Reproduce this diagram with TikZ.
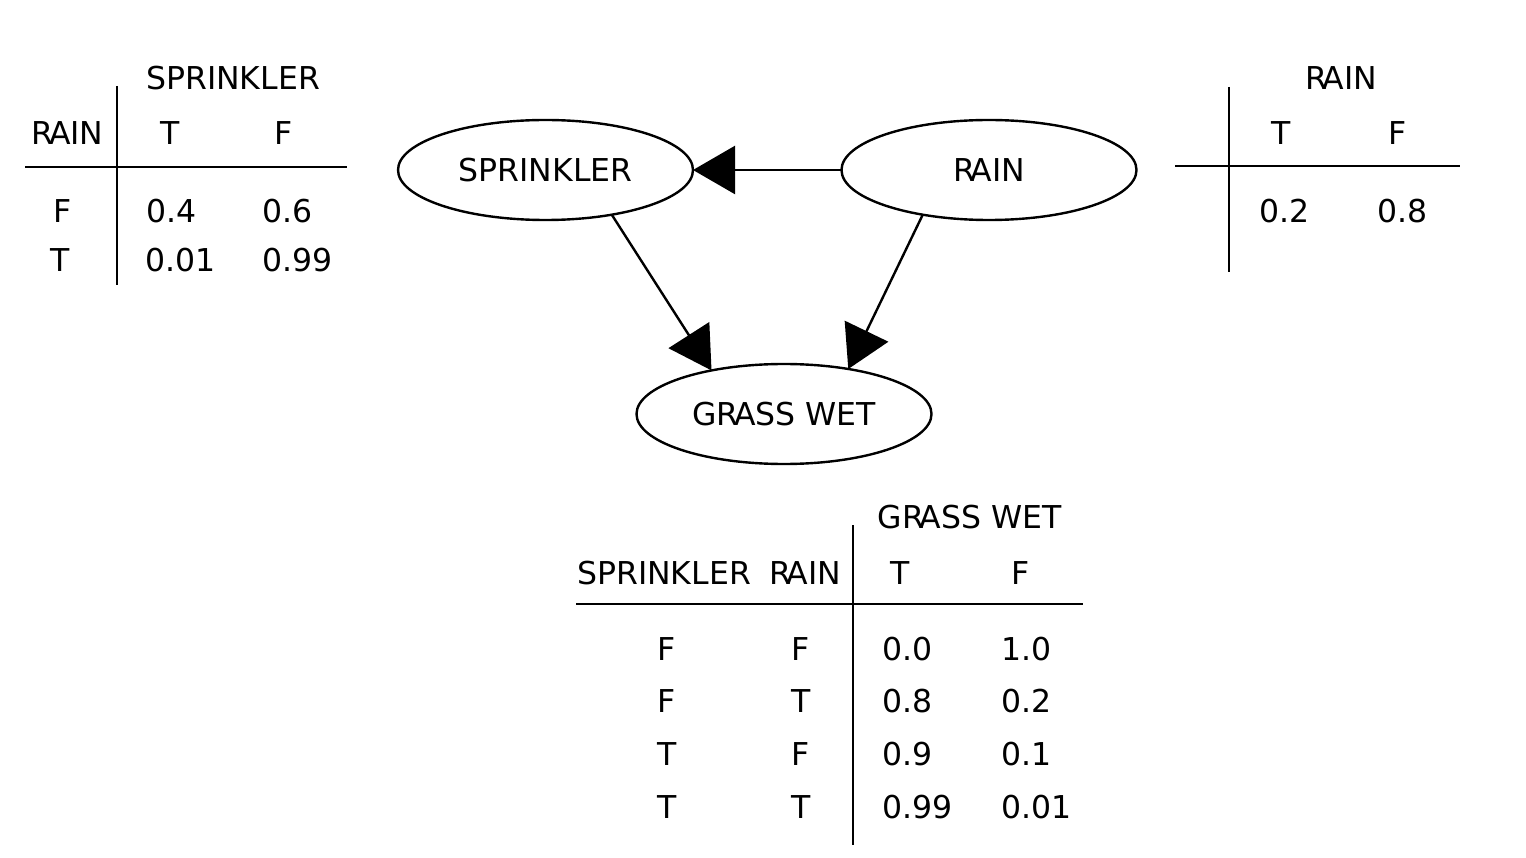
\documentclass[tikz,border=0pt]{standalone}
\usepackage{fontspec}
\setmainfont{DejaVu Sans}
\usetikzlibrary{arrows.meta,shapes.geometric}
\newcommand{\myRA}{R\kern-4.5pt A}
\begin{document}
\begin{tikzpicture}[x=1pt,y=-1pt,
  lbl/.style={font=\fontsize{31.5}{36}\selectfont, inner sep=0, outer sep=0, anchor=base},
  num/.style={lbl, anchor=base west},
  var/.style={ellipse, draw, line width=2.4pt, minimum width=295pt, minimum height=100pt,
              inner sep=0, outer sep=0, font=\fontsize{31.5}{36}\selectfont},
  rule/.style={line width=2.4pt},
  arr/.style={line width=2.4pt, -{Triangle[length=42pt,width=48pt]}}]
\fill[white] (0,0) rectangle (1526,858);
\useasboundingbox (0,0) rectangle (1526,858);

% network
\node[var] (spr) at (545.5,170) {SPRINKLER};
\node[var] (rain) at (989,170) {\myRA IN};
\node[var] (gw) at (784,414) {G\myRA SS WET};
\draw[arr] (rain) -- (spr);
\draw[arr] (spr.-34) -- (gw.149);
\draw[arr] (rain.214.5) -- (gw.35);

% top-left table: SPRINKLER given RAIN
\node[lbl] (a0) at (233,89.5) {SPRINKLER};
\node[lbl] (a1) at (67.5,145) {\myRA IN};
\node[lbl] (a2) at (170,145) {T};
\node[lbl] (a3) at (284,145) {F};
\node[lbl] (a4) at (63,222.5) {F};
\node[num] (a5) at (146,222.5) {0.4};
\node[num] (a6) at (262,222.5) {0.6};
\node[lbl] (a7) at (60,272) {T};
\node[num] (a8) at (145,272) {0.01};
\node[num] (a9) at (262,272) {0.99};
\draw[rule] (25,167) -- (347,167);
\draw[rule] (117,86) -- (117,285);

% top-right table: RAIN
\node[lbl] (b0) at (1341,89.5) {\myRA IN};
\node[lbl] (b1) at (1281,145) {T};
\node[lbl] (b2) at (1398,145) {F};
\node[num] (b3) at (1259,222.5) {0.2};
\node[num] (b4) at (1377,222.5) {0.8};
\draw[rule] (1175,166) -- (1460,166);
\draw[rule] (1229,87) -- (1229,272);

% bottom table: GRASS WET given SPRINKLER, RAIN
\node[lbl] (c0) at (969.5,528) {G\myRA SS WET};
\node[lbl] (c1) at (664,584) {SPRINKLER};
\node[lbl] (c2) at (805,584) {\myRA IN};
\node[lbl] (c3) at (900,584) {T};
\node[lbl] (c4) at (1021,584) {F};
\node[lbl] (r1a) at (667,660) {F};
\node[lbl] (r1b) at (801,660) {F};
\node[num] (r1c) at (882,660) {0.0};
\node[num] (r1d) at (1001,660) {1.0};
\node[lbl] (r2a) at (667,712.5) {F};
\node[lbl] (r2b) at (801,712.5) {T};
\node[num] (r2c) at (882,712.5) {0.8};
\node[num] (r2d) at (1001,712.5) {0.2};
\node[lbl] (r3a) at (667,765) {T};
\node[lbl] (r3b) at (801,765) {F};
\node[num] (r3c) at (882,765) {0.9};
\node[num] (r3d) at (1001,765) {0.1};
\node[lbl] (r4a) at (667,818) {T};
\node[lbl] (r4b) at (801,818) {T};
\node[num] (r4c) at (882,818) {0.99};
\node[num] (r4d) at (1001,818) {0.01};
\draw[rule] (576,604) -- (1083,604);
\draw[rule] (853,525) -- (853,845);
\end{tikzpicture}
\end{document}
